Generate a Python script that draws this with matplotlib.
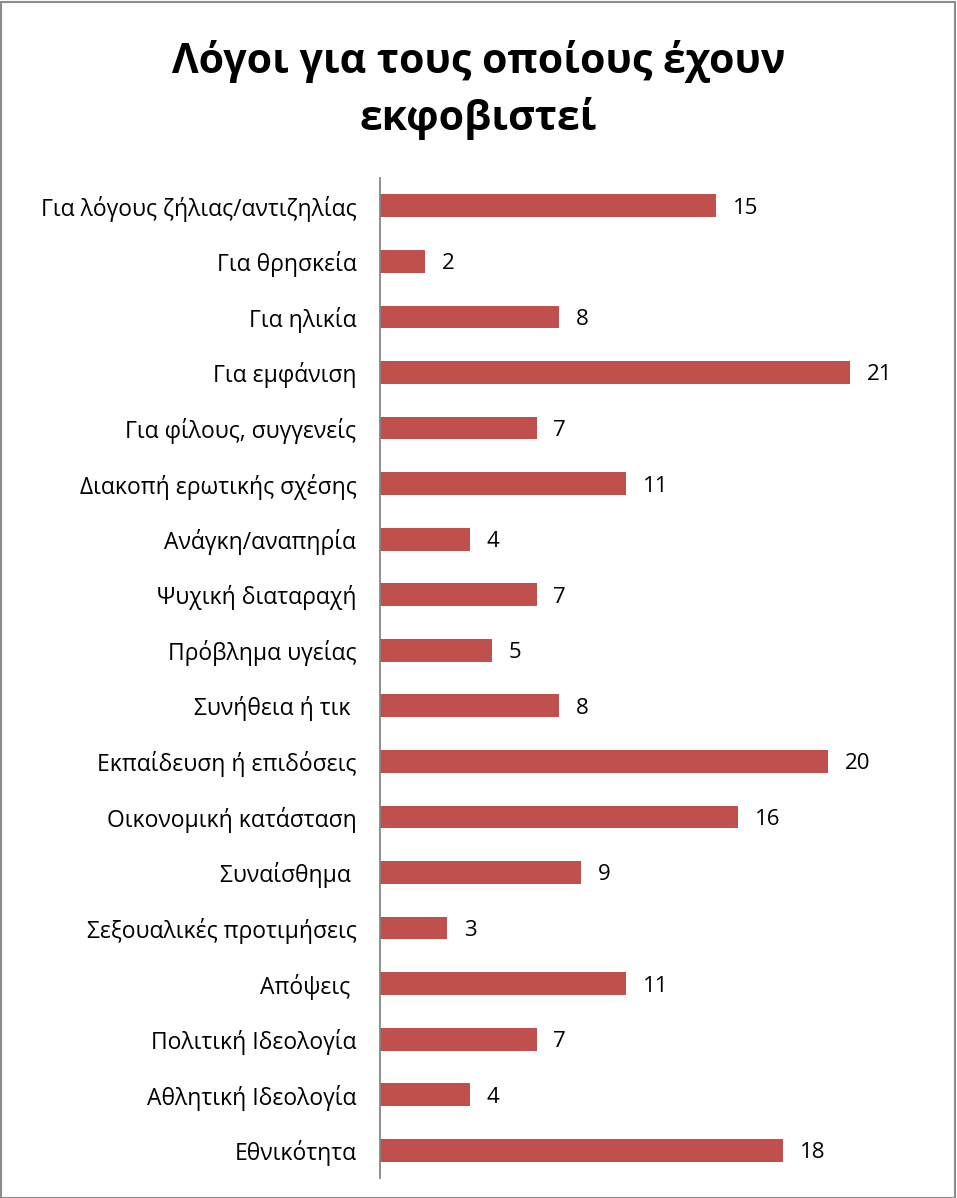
import matplotlib
matplotlib.use("Agg")
import matplotlib.pyplot as plt
from matplotlib.patches import Rectangle

plt.rcParams['font.family'] = ['Open Sans', 'Noto Sans', 'DejaVu Sans']

categories = [
    "Για λόγους ζήλιας/αντιζηλίας",
    "Για θρησκεία",
    "Για ηλικία",
    "Για εμφάνιση",
    "Για φίλους, συγγενείς",
    "Διακοπή ερωτικής σχέσης",
    "Ανάγκη/αναπηρία",
    "Ψυχική διαταραχή",
    "Πρόβλημα υγείας",
    "Συνήθεια ή τικ ",
    "Εκπαίδευση ή επιδόσεις",
    "Οικονομική κατάσταση",
    "Συναίσθημα ",
    "Σεξουαλικές προτιμήσεις",
    "Απόψεις ",
    "Πολιτική Ιδεολογία",
    "Αθλητική Ιδεολογία",
    "Εθνικότητα",
]
values = [15, 2, 8, 21, 7, 11, 4, 7, 5, 8, 20, 16, 9, 3, 11, 7, 4, 18]
title = "Λόγοι για τους οποίους έχουν\nεκφοβιστεί"

W, H = 957, 1198
fig = plt.figure(figsize=(W / 100, H / 100), dpi=100)
fig.patch.set_facecolor("white")

# outer border
fig.add_artist(Rectangle((0.5 / W, 0.5 / H), 1 - 2.5 / W, 1 - 2.5 / H,
                         transform=fig.transFigure, fill=False,
                         edgecolor="#8c8c8c", linewidth=1.5))

left = 380 / W
right = 939.5 / W
top = 1 - 178 / H
bottom = 1 - 1178 / H
ax = fig.add_axes([left, bottom, right - left, top - bottom])

y = list(range(len(categories)))
ax.barh(y, values, height=0.41, color="#C0504D", edgecolor="none")
ax.set_xlim(0, 25)
ax.set_ylim(len(categories) - 0.5, -0.5)

for yi, v in zip(y, values):
    ax.text(v + 0.75, yi, str(v), va="center_baseline", ha="left", fontsize=16, color="black")

ax.set_yticks(y)
ax.set_yticklabels(categories, fontsize=16.5, va="center_baseline")
ax.tick_params(axis="y", length=0, pad=17)
ax.set_xticks([])
for s in ["top", "right", "bottom"]:
    ax.spines[s].set_visible(False)
ax.spines["left"].set_color("#868686")
ax.spines["left"].set_linewidth(1.3)

fig.text(0.5, 1 - 90 / H, title, ha="center", va="center", fontsize=29.5,
         fontweight="bold", linespacing=1.45)

fig.savefig("out.png", dpi=100, facecolor="white")
